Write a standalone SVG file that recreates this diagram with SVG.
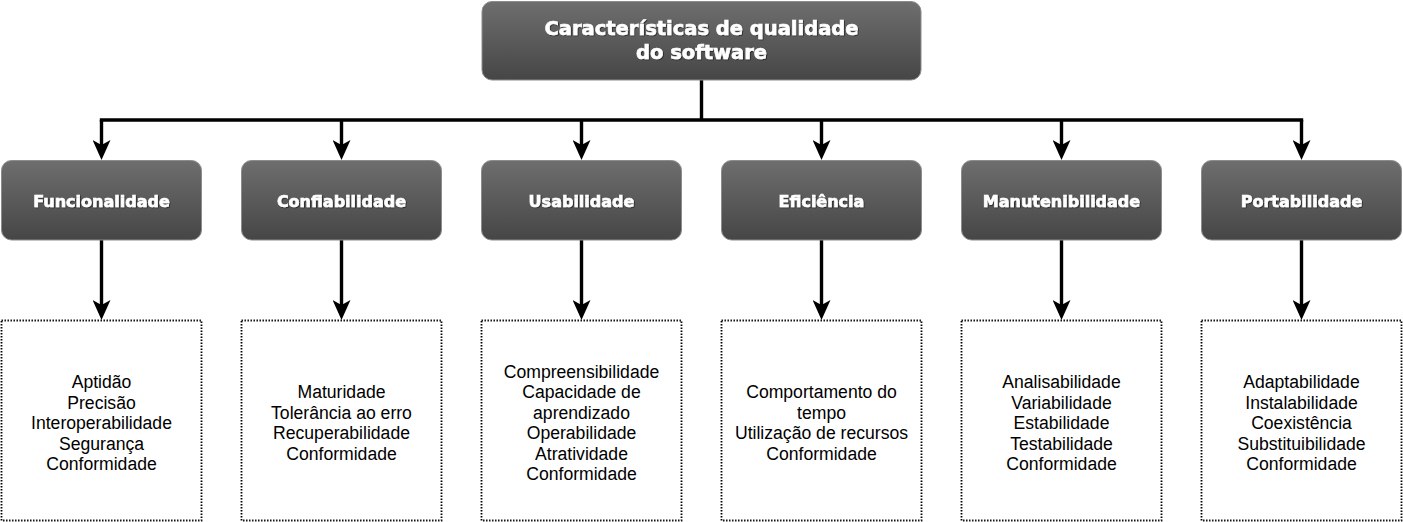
<svg xmlns="http://www.w3.org/2000/svg" width="1403" height="522" viewBox="0 0 1403 522">
<style>
.box{fill:url(#g);stroke:#8c8c8c;stroke-width:1}
.ttl{font-family:"DejaVu Sans",Verdana,sans-serif;font-weight:bold;fill:#fff;stroke:#fff;stroke-width:0.6;text-anchor:middle;filter:url(#sh)}
.lst{fill:#fff;stroke:#000;stroke-width:1.8;stroke-dasharray:1.4 1.6}
.txt{font-family:"Liberation Sans",Arial,Helvetica,sans-serif;font-size:17.6px;fill:#000;text-anchor:middle}
.con{fill:none;stroke:#000;stroke-width:3.4}
</style>
<defs>
<linearGradient id="g" x1="0" y1="0" x2="0" y2="1">
<stop offset="0" stop-color="#6e6e6e"/>
<stop offset="1" stop-color="#464646"/>
</linearGradient>
<filter id="sh" x="-5%" y="-20%" width="110%" height="140%">
<feDropShadow dx="0.8" dy="0.8" stdDeviation="0.6" flood-color="#000" flood-opacity="0.6"/>
</filter>
<marker id="ar" viewBox="0 0 20 18" refX="14" refY="9" markerWidth="20" markerHeight="18" markerUnits="userSpaceOnUse" orient="auto">
<path d="M0,0 L20,9 L0,18 L5,9 Z" fill="#000"/>
</marker>
</defs>
<g id="connectors">
<path class="con" d="M701.5,80 V120 M99.8,120 H1303.2"/>
<path class="con" marker-end="url(#ar)" d="M101.5,120 V154"/>
<path class="con" marker-end="url(#ar)" d="M341.5,120 V154"/>
<path class="con" marker-end="url(#ar)" d="M581.5,120 V154"/>
<path class="con" marker-end="url(#ar)" d="M821.5,120 V154"/>
<path class="con" marker-end="url(#ar)" d="M1061.5,120 V154"/>
<path class="con" marker-end="url(#ar)" d="M1301.5,120 V154"/>
<path class="con" marker-end="url(#ar)" d="M101.5,240 V314"/>
<path class="con" marker-end="url(#ar)" d="M341.5,240 V314"/>
<path class="con" marker-end="url(#ar)" d="M581.5,240 V314"/>
<path class="con" marker-end="url(#ar)" d="M821.5,240 V314"/>
<path class="con" marker-end="url(#ar)" d="M1061.5,240 V314"/>
<path class="con" marker-end="url(#ar)" d="M1301.5,240 V314"/>
</g>
<g id="root">
<rect class="box" x="482" y="1.5" width="439" height="78.5" rx="10"/>
<text class="ttl" font-size="19.5" x="701.5" y="35">Características de qualidade</text>
<text class="ttl" font-size="19.5" x="701.5" y="59">do software</text>
</g>
<g id="funcionalidade">
<rect class="box" x="1.5" y="160.5" width="200" height="79.5" rx="10"/>
<text class="ttl" font-size="16" x="101.5" y="206.5">Funcionalidade</text>
</g>
<g id="confiabilidade">
<rect class="box" x="241.5" y="160.5" width="200" height="79.5" rx="10"/>
<text class="ttl" font-size="16" x="341.5" y="206.5">Confiabilidade</text>
</g>
<g id="usabilidade">
<rect class="box" x="481.5" y="160.5" width="200" height="79.5" rx="10"/>
<text class="ttl" font-size="16" x="581.5" y="206.5">Usabilidade</text>
</g>
<g id="eficiencia">
<rect class="box" x="721.5" y="160.5" width="200" height="79.5" rx="10"/>
<text class="ttl" font-size="16" x="821.5" y="206.5">Eficiência</text>
</g>
<g id="manutenibilidade">
<rect class="box" x="961.5" y="160.5" width="200" height="79.5" rx="10"/>
<text class="ttl" font-size="16" x="1061.5" y="206.5">Manutenibilidade</text>
</g>
<g id="portabilidade">
<rect class="box" x="1201.5" y="160.5" width="200" height="79.5" rx="10"/>
<text class="ttl" font-size="16" x="1301.5" y="206.5">Portabilidade</text>
</g>
<g id="lista-funcionalidade">
<rect class="lst" x="1.5" y="320.5" width="200" height="200"/>
<text class="txt" x="101.5"><tspan x="101.5" y="388">Aptidão</tspan><tspan x="101.5" y="408.5">Precisão</tspan><tspan x="101.5" y="429">Interoperabilidade</tspan><tspan x="101.5" y="449.5">Segurança</tspan><tspan x="101.5" y="470">Conformidade</tspan></text>
</g>
<g id="lista-confiabilidade">
<rect class="lst" x="241.5" y="320.5" width="200" height="200"/>
<text class="txt" x="341.5"><tspan x="341.5" y="398.25">Maturidade</tspan><tspan x="341.5" y="418.75">Tolerância ao erro</tspan><tspan x="341.5" y="439.25">Recuperabilidade</tspan><tspan x="341.5" y="459.75">Conformidade</tspan></text>
</g>
<g id="lista-usabilidade">
<rect class="lst" x="481.5" y="320.5" width="200" height="200"/>
<text class="txt" x="581.5"><tspan x="581.5" y="377.75">Compreensibilidade</tspan><tspan x="581.5" y="398.25">Capacidade de</tspan><tspan x="581.5" y="418.75">aprendizado</tspan><tspan x="581.5" y="439.25">Operabilidade</tspan><tspan x="581.5" y="459.75">Atratividade</tspan><tspan x="581.5" y="480.25">Conformidade</tspan></text>
</g>
<g id="lista-eficiencia">
<rect class="lst" x="721.5" y="320.5" width="200" height="200"/>
<text class="txt" x="821.5"><tspan x="821.5" y="398.25">Comportamento do</tspan><tspan x="821.5" y="418.75">tempo</tspan><tspan x="821.5" y="439.25">Utilização de recursos</tspan><tspan x="821.5" y="459.75">Conformidade</tspan></text>
</g>
<g id="lista-manutenibilidade">
<rect class="lst" x="961.5" y="320.5" width="200" height="200"/>
<text class="txt" x="1061.5"><tspan x="1061.5" y="388">Analisabilidade</tspan><tspan x="1061.5" y="408.5">Variabilidade</tspan><tspan x="1061.5" y="429">Estabilidade</tspan><tspan x="1061.5" y="449.5">Testabilidade</tspan><tspan x="1061.5" y="470">Conformidade</tspan></text>
</g>
<g id="lista-portabilidade">
<rect class="lst" x="1201.5" y="320.5" width="200" height="200"/>
<text class="txt" x="1301.5"><tspan x="1301.5" y="388">Adaptabilidade</tspan><tspan x="1301.5" y="408.5">Instalabilidade</tspan><tspan x="1301.5" y="429">Coexistência</tspan><tspan x="1301.5" y="449.5">Substituibilidade</tspan><tspan x="1301.5" y="470">Conformidade</tspan></text>
</g>
</svg>
